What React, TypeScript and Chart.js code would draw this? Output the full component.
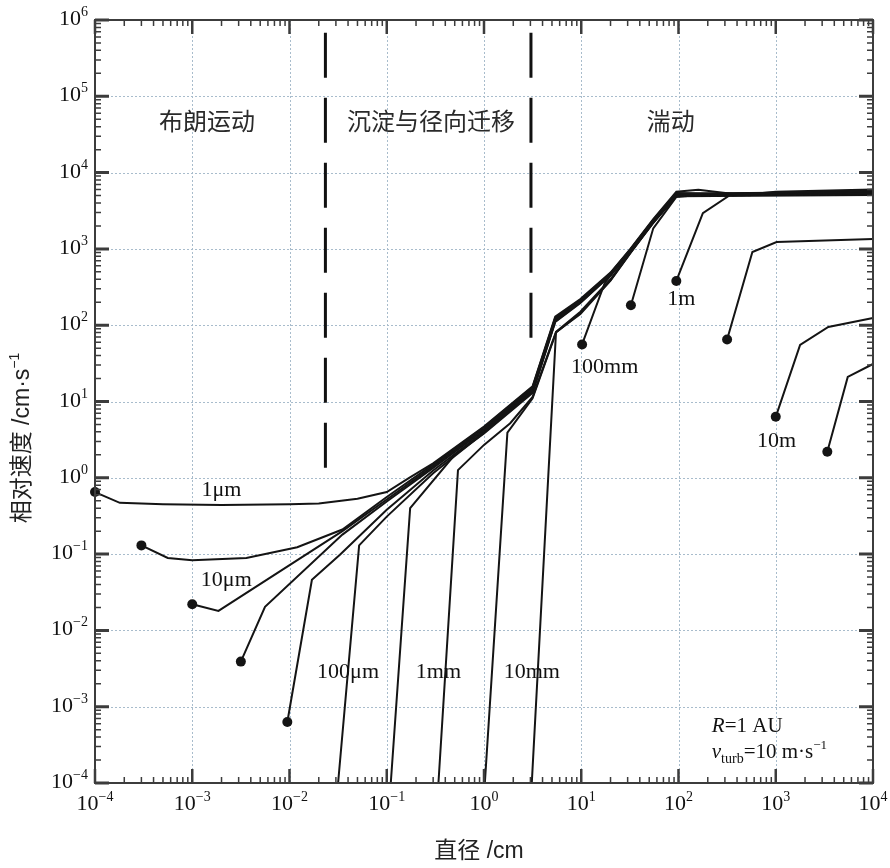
import React, { useEffect, useRef } from 'react';
import { Chart, registerables } from 'chart.js';

Chart.register(...registerables);

// ---- axis ranges / tick exponents ----
const xTickExps = [-4, -3, -2, -1, 0, 1, 2, 3, 4];
const yTickExps = [-4, -3, -2, -1, 0, 1, 2, 3, 4, 5, 6];

// ---- curves (diameter in cm, relative velocity in cm/s) ----
const curveAX = [1e-4, 1.8e-4, 5e-4, 2e-3, 0.01, 0.02, 0.05, 0.1, 0.17, 0.3, 1, 3.16, 5.4, 9.8, 20, 32, 55, 95, 160, 450, 1000, 10000];
const curveAY = [0.65, 0.47, 0.45, 0.44, 0.45, 0.46, 0.53, 0.65, 1.0, 1.55, 4.7, 15.8, 130, 220, 490, 1000, 2450, 5600, 5950, 5100, 5600, 6000];

const curveBX = [3e-4, 5.6e-4, 1e-3, 3.6e-3, 0.012, 0.035, 0.1, 0.3, 1, 3.16, 5.4, 9.8, 20, 32, 55, 95, 300, 10000];
const curveBY = [0.13, 0.089, 0.083, 0.089, 0.123, 0.21, 0.56, 1.5, 4.6, 15.5, 125, 215, 480, 980, 2400, 5400, 5300, 5800];

const curveCX = [1e-3, 1.86e-3, 0.035, 0.1, 0.3, 1, 3.16, 5.4, 9.8, 20, 32, 55, 95, 10000];
const curveCY = [0.022, 0.018, 0.2, 0.52, 1.42, 4.4, 15, 122, 210, 475, 970, 2380, 5300, 5600];

const curveDX = [3.16e-3, 5.6e-3, 0.035, 0.1, 0.3, 1, 3.16, 5.4, 9.8, 20, 32, 55, 95, 10000];
const curveDY = [0.0039, 0.0204, 0.18, 0.49, 1.35, 4.2, 14.5, 118, 205, 465, 960, 2350, 5200, 5400];

const curveEX = [9.5e-3, 0.017, 0.033, 0.1, 0.3, 1, 3.16, 5.4, 9.8, 20, 32, 55, 95, 10000];
const curveEY = [6.3e-4, 0.046, 0.098, 0.38, 1.25, 4.0, 14, 115, 200, 460, 950, 2300, 5100, 5300];

const curveFX = [0.0316, 0.052, 0.1, 0.3, 1, 3.16, 5.4, 9.8, 20, 32, 55, 95, 10000];
const curveFY = [1e-4, 0.13, 0.31, 1.15, 3.9, 13.5, 112, 200, 455, 940, 2300, 5100, 5200];

const curveGX = [0.11, 0.174, 0.5, 1, 3.16, 5.4, 9.8, 20, 32, 55, 95, 10000];
const curveGY = [1e-4, 0.4, 2.0, 3.8, 13, 110, 195, 450, 930, 2250, 5000, 5200];

const curveHX = [0.34, 0.54, 1, 1.86, 3.16, 5.5, 9.8, 20, 32, 55, 95, 10000];
const curveHY = [1e-4, 1.26, 2.7, 5.2, 11.5, 82, 150, 400, 900, 2250, 5000, 5200];

const curveIX = [1.02, 1.74, 3.16, 5.5, 9.8, 20, 32, 55, 95, 10000];
const curveIY = [1e-4, 3.9, 11, 80, 145, 390, 890, 2200, 5000, 5200];

const curveJX = [3.1, 5.5, 9.8, 20, 32, 55, 95, 10000];
const curveJY = [1e-4, 81, 140, 385, 880, 2200, 4900, 5100];

const curveKX = [10.2, 17.4, 23.4, 32, 55, 95, 300, 10000];
const curveKY = [56, 355, 575, 980, 2350, 5100, 5300, 5500];

const curveLX = [32.4, 55, 95, 200, 10000];
const curveLY = [183, 1860, 4800, 5200, 5400];

const curveMX = [95, 178, 340, 1000, 10000];
const curveMY = [380, 2950, 5100, 5200, 5300];

const curveNX = [316, 575, 1020, 10000];
const curveNY = [65, 910, 1230, 1350];

const curveOX = [1000, 1780, 3470, 10000];
const curveOY = [6.3, 55, 95, 124];

const curvePX = [3390, 5500, 10000];
const curvePY = [2.2, 21, 31];

// regime boundaries (dashed verticals)
const boundaryX = [0.0234, 3.04];
const boundaryTopY = [6.8e5, 6.8e5];
const boundaryBottomY = [1.26, 64];

// curve labels
const curveLabels = ['1μm', '10μm', '100μm', '1mm', '10mm', '100mm', '1m', '10m'];
const curveLabelX = [2.0e-3, 2.24e-3, 0.04, 0.34, 3.1, 17.4, 107, 1020];
const curveLabelY = [0.69, 0.045, 2.8e-3, 2.8e-3, 2.8e-3, 28, 219, 3.0];

// regime labels
const regimeLabels = ['布朗运动', '沉淀与径向迁移', '湍动'];
const regimeLabelX = [1.42e-3, 0.285, 83];
const regimeLabelY = [4.8e4, 4.8e4, 4.8e4];

const curves = [
  { x: curveAX, y: curveAY, dot: true },
  { x: curveBX, y: curveBY, dot: true },
  { x: curveCX, y: curveCY, dot: true },
  { x: curveDX, y: curveDY, dot: true },
  { x: curveEX, y: curveEY, dot: true },
  { x: curveFX, y: curveFY, dot: false },
  { x: curveGX, y: curveGY, dot: false },
  { x: curveHX, y: curveHY, dot: false },
  { x: curveIX, y: curveIY, dot: false },
  { x: curveJX, y: curveJY, dot: false },
  { x: curveKX, y: curveKY, dot: true },
  { x: curveLX, y: curveLY, dot: true },
  { x: curveMX, y: curveMY, dot: true },
  { x: curveNX, y: curveNY, dot: true },
  { x: curveOX, y: curveOY, dot: true },
  { x: curvePX, y: curvePY, dot: true },
];

const SERIF = "'Liberation Serif', 'DejaVu Serif', serif";
const CJK = "'Liberation Sans', 'Noto Sans CJK SC', sans-serif";

const pow10 = (e: number) => Number('1e' + e);

function drawSup(ctx: CanvasRenderingContext2D, base: string, exp: string, x: number, y: number,
  align: 'left' | 'center' | 'right', baseFont: string, supFont: string, rise: number) {
  ctx.font = baseFont;
  const wb = ctx.measureText(base).width;
  ctx.font = supFont;
  const we = ctx.measureText(exp).width;
  const total = wb + we;
  const left = align === 'right' ? x - total : align === 'center' ? x - total / 2 : x;
  ctx.textAlign = 'left';
  ctx.font = baseFont;
  ctx.fillText(base, left, y);
  ctx.font = supFont;
  ctx.fillText(exp, left + wb, y - rise);
}

const decorPlugin = {
  id: 'decor',
  beforeDatasetsDraw(chart: any) {
    const { ctx, chartArea: a, scales } = chart;
    const xs = scales.x, ys = scales.y;
    ctx.save();
    ctx.strokeStyle = '#a8bccc';
    ctx.lineWidth = 1;
    ctx.setLineDash([2, 2]);
    for (const e of xTickExps) {
      const px = Math.round(xs.getPixelForValue(pow10(e))) + 0.5;
      if (px <= a.left + 2 || px >= a.right - 2) continue;
      ctx.beginPath(); ctx.moveTo(px, a.top); ctx.lineTo(px, a.bottom); ctx.stroke();
    }
    for (const e of yTickExps) {
      const py = Math.round(ys.getPixelForValue(pow10(e))) + 0.5;
      if (py <= a.top + 2 || py >= a.bottom - 2) continue;
      ctx.beginPath(); ctx.moveTo(a.left, py); ctx.lineTo(a.right, py); ctx.stroke();
    }
    ctx.restore();
  },
  afterDatasetsDraw(chart: any) {
    const { ctx, chartArea: a, scales } = chart;
    const xs = scales.x, ys = scales.y;
    ctx.save();
    ctx.setLineDash([]);
    ctx.strokeStyle = '#3c3c3c';
    // minor ticks
    ctx.lineWidth = 1.5;
    for (let d = -4; d < 4; d++) {
      for (let m = 2; m <= 9; m++) {
        const px = xs.getPixelForValue(m * pow10(d));
        ctx.beginPath();
        ctx.moveTo(px, a.bottom); ctx.lineTo(px, a.bottom - 6);
        ctx.moveTo(px, a.top); ctx.lineTo(px, a.top + 6);
        ctx.stroke();
      }
    }
    for (let d = -4; d < 6; d++) {
      for (let m = 2; m <= 9; m++) {
        const py = ys.getPixelForValue(m * pow10(d));
        ctx.beginPath();
        ctx.moveTo(a.left, py); ctx.lineTo(a.left + 6, py);
        ctx.moveTo(a.right, py); ctx.lineTo(a.right - 6, py);
        ctx.stroke();
      }
    }
    // major ticks
    ctx.lineWidth = 2.5;
    for (const e of xTickExps) {
      const px = xs.getPixelForValue(pow10(e));
      ctx.beginPath();
      ctx.moveTo(px, a.bottom); ctx.lineTo(px, a.bottom - 14);
      ctx.moveTo(px, a.top); ctx.lineTo(px, a.top + 14);
      ctx.stroke();
    }
    ctx.lineWidth = 3;
    for (const e of yTickExps) {
      const py = ys.getPixelForValue(pow10(e));
      ctx.beginPath();
      ctx.moveTo(a.left, py); ctx.lineTo(a.left + 14, py);
      ctx.moveTo(a.right, py); ctx.lineTo(a.right - 14, py);
      ctx.stroke();
    }
    // frame
    ctx.lineWidth = 2;
    ctx.strokeRect(a.left, a.top, a.right - a.left, a.bottom - a.top);

    // tick labels
    ctx.fillStyle = '#111';
    ctx.textBaseline = 'alphabetic';
    const baseFont = `22px ${SERIF}`;
    const supFont = `14px ${SERIF}`;
    for (const e of xTickExps) {
      const px = xs.getPixelForValue(pow10(e));
      drawSup(ctx, '10', e < 0 ? '\u2212' + Math.abs(e) : String(e), px, a.bottom + 27, 'center', baseFont, supFont, 9);
    }
    for (const e of yTickExps) {
      const py = ys.getPixelForValue(pow10(e));
      drawSup(ctx, '10', e < 0 ? '\u2212' + Math.abs(e) : String(e), a.left - 7, py + 5, 'right', baseFont, supFont, 9);
    }

    // curve labels
    ctx.font = `22px ${SERIF}`;
    ctx.textAlign = 'center';
    ctx.textBaseline = 'middle';
    curveLabels.forEach((t, i) => {
      ctx.fillText(t, xs.getPixelForValue(curveLabelX[i]), ys.getPixelForValue(curveLabelY[i]));
    });

    // regime labels
    ctx.font = `24px 'Noto Sans CJK SC', sans-serif`;
    ctx.fillStyle = '#2a2a2a';
    regimeLabels.forEach((t, i) => {
      ctx.fillText(t, xs.getPixelForValue(regimeLabelX[i]), ys.getPixelForValue(regimeLabelY[i]));
    });

    // parameters text
    ctx.fillStyle = '#111';
    ctx.textAlign = 'left';
    ctx.textBaseline = 'alphabetic';
    const tx = xs.getPixelForValue(220);
    const ty = ys.getPixelForValue(5.9e-4) + 8;
    ctx.font = `italic 21px ${SERIF}`;
    ctx.fillText('R', tx, ty);
    let w = ctx.measureText('R').width;
    ctx.font = `21px ${SERIF}`;
    ctx.fillText('=1 AU', tx + w, ty);
    const ty2 = ty + 26;
    ctx.font = `italic 21px ${SERIF}`;
    ctx.fillText('v', tx, ty2);
    w = ctx.measureText('v').width;
    ctx.font = `14px ${SERIF}`;
    ctx.fillText('turb', tx + w, ty2 + 5);
    w += ctx.measureText('turb').width;
    ctx.font = `21px ${SERIF}`;
    ctx.fillText('=10 m\u00b7s', tx + w, ty2);
    w += ctx.measureText('=10 m\u00b7s').width;
    ctx.font = `13px ${SERIF}`;
    ctx.fillText('\u22121', tx + w, ty2 - 9);

    // axis titles
    ctx.fillStyle = '#222';
    const tFont = `23px ${CJK}`;
    const sFont = `14px ${CJK}`;
    ctx.textBaseline = 'middle';
    ctx.font = tFont;
    ctx.textAlign = 'center';
    ctx.fillText('直径 /cm', 479, 852);

    ctx.save();
    ctx.translate(23, 438);
    ctx.rotate(-Math.PI / 2);
    ctx.font = tFont;
    const mainT = '相对速度 /cm\u00b7s';
    const w1 = ctx.measureText(mainT).width;
    ctx.font = sFont;
    const w2 = ctx.measureText('\u22121').width;
    const start = -(w1 + w2) / 2;
    ctx.textAlign = 'left';
    ctx.font = tFont;
    ctx.fillText(mainT, start, 0);
    ctx.font = sFont;
    ctx.fillText('\u22121', start + w1, -8);
    ctx.restore();

    ctx.restore();
  },
};

export default function App() {
  const canvasRef = useRef<HTMLCanvasElement | null>(null);

  useEffect(() => {
    if (!canvasRef.current) return;
    const datasets: any[] = curves.map((c) => ({
      data: c.x.map((v, i) => ({ x: v, y: c.y[i] })),
      showLine: true,
      borderColor: '#141414',
      backgroundColor: '#141414',
      borderWidth: 2,
      tension: 0,
      clip: false,
      pointRadius: (ctx: any) => (c.dot && ctx.dataIndex === 0 ? 5 : 0),
      pointBackgroundColor: '#141414',
      pointBorderWidth: 0,
      pointHoverRadius: 0,
    }));
    boundaryX.forEach((bx, i) => {
      datasets.push({
        data: [{ x: bx, y: boundaryTopY[i] }, { x: bx, y: boundaryBottomY[i] }],
        showLine: true,
        borderColor: '#111',
        borderWidth: 3,
        borderDash: [45, 20],
        pointRadius: 0,
        clip: false,
      });
    });

    const chart = new Chart(canvasRef.current, {
      type: 'scatter',
      data: { datasets },
      options: {
        animation: false,
        responsive: false,
        devicePixelRatio: 1,
        layout: { padding: { left: 95, right: 17, top: 20, bottom: 85 } },
        plugins: { legend: { display: false }, tooltip: { enabled: false } },
        events: [],
        scales: {
          x: {
            type: 'logarithmic',
            min: 1e-4,
            max: 1e4,
            ticks: { display: false },
            grid: { display: false, drawTicks: false },
            border: { display: false },
          },
          y: {
            type: 'logarithmic',
            min: 1e-4,
            max: 1e6,
            ticks: { display: false },
            grid: { display: false, drawTicks: false },
            border: { display: false },
          },
        },
      },
      plugins: [decorPlugin],
    } as any);
    return () => chart.destroy();
  }, []);

  return (
    <div style={{ position: 'fixed', left: 0, top: 0, width: 890, height: 868, background: '#fff' }}>
      <canvas ref={canvasRef} width={890} height={868} style={{ display: 'block' }} />
    </div>
  );
}
